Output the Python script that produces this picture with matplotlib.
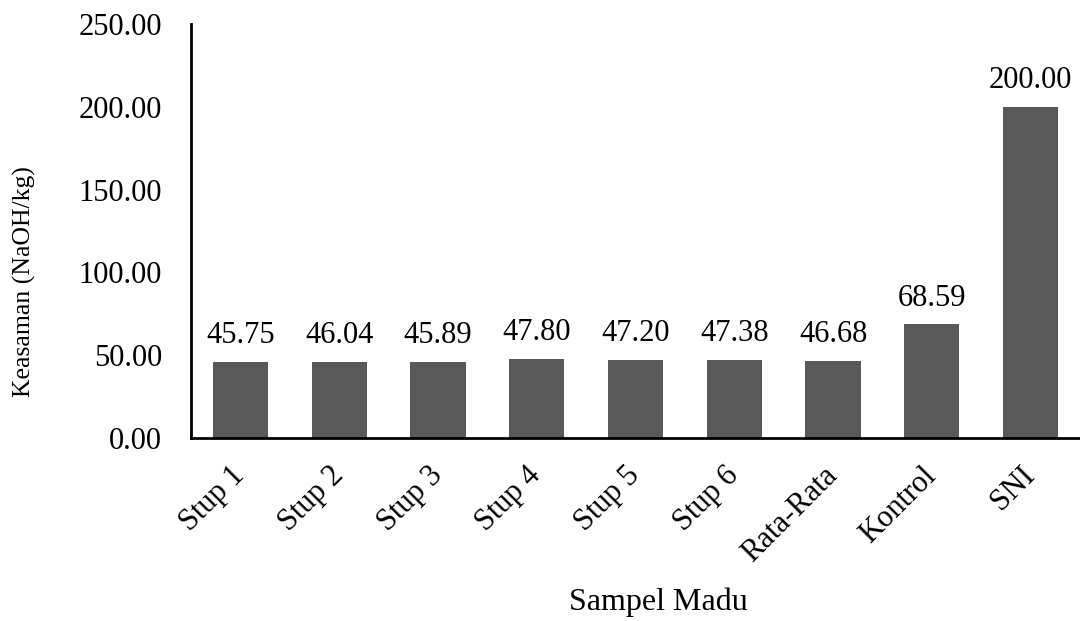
"""
Keasaman (acidity) of honey samples: simple bar chart with value labels.
"""

import matplotlib
matplotlib.use("Agg")
import matplotlib.pyplot as plt
import numpy as np

# data
categories = ["Stup 1", "Stup 2", "Stup 3", "Stup 4", "Stup 5", "Stup 6",
              "Rata-Rata", "Kontrol", "SNI"]
acidity = [45.75, 46.04, 45.89, 47.80, 47.20, 47.38, 46.68, 68.59, 200.00]
y_ticks = [0, 50, 100, 150, 200, 250]

BAR_COLOR = "#595959"
FONT = "Liberation Serif"


def main():
    plt.rcParams["font.family"] = FONT

    fig = plt.figure(figsize=(10.8, 6.21), dpi=100)
    ax = fig.add_axes([0.1769, 0.2947, 0.8231, 0.6667])

    x = np.arange(len(categories))
    bars = ax.bar(x, acidity, width=0.56, color=BAR_COLOR, zorder=2)

    for rect, val in zip(bars, acidity):
        ax.annotate(f"{val:.2f}", (rect.get_x() + rect.get_width() / 2, val),
                    xytext=(0, 13.5), textcoords="offset points",
                    ha="center", va="baseline", fontsize=22)

    ax.set_xlim(-0.5, len(categories) - 0.5)
    ax.set_ylim(0, 250)
    ax.set_yticks(y_ticks)
    ax.set_yticklabels([f"{v:.2f}" for v in y_ticks], fontsize=22)
    ax.set_xticks(x)
    ax.set_xticklabels(categories, rotation=45, ha="right", va="center",
                       rotation_mode="anchor", fontsize=22)
    ax.tick_params(axis="both", length=0)
    ax.tick_params(axis="y", pad=21)
    ax.tick_params(axis="x", pad=24)

    ax.set_ylabel("Keasaman (NaOH/kg)", fontsize=18.5, va="center")
    ax.yaxis.set_label_coords(-0.187, 0.377)
    ax.set_xlabel("Sampel Madu", fontsize=23, va="center")
    ax.xaxis.set_label_coords(0.526, -0.396)

    ax.spines["top"].set_visible(False)
    ax.spines["right"].set_visible(False)
    ax.spines["left"].set_linewidth(2)
    ax.spines["bottom"].set_linewidth(2)

    fig.savefig("out.png", dpi=100)
    plt.close(fig)


if __name__ == "__main__":
    main()
